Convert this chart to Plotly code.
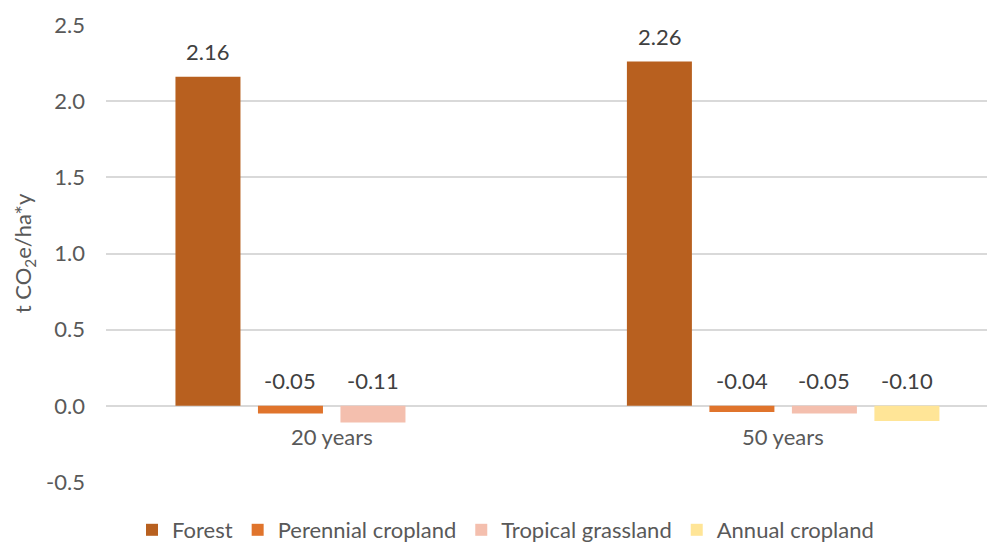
import plotly.graph_objects as go

categories = ["20 years", "50 years"]
series_names = ["Forest", "Perennial cropland", "Tropical grassland", "Annual cropland"]
forest = [2.16, 2.26]
perennial = [-0.05, -0.04]
tropical = [-0.11, -0.05]
annual = [None, -0.10]
series_values = [forest, perennial, tropical, annual]
colors = ["#B8601F", "#E0742C", "#F4BFAE", "#FFE597"]
y_ticks = [-0.5, 0.0, 0.5, 1.0, 1.5, 2.0, 2.5]

FONT = "Lato"
FS = 22
BARGAP = 0.269
GROUPGAP = 0.212

fig = go.Figure()
for name, vals, col in zip(series_names, series_values, colors):
    fig.add_trace(go.Bar(name=name, x=categories, y=vals, marker=dict(color=col, line=dict(width=0)),
                         hoverinfo="x+y+name"))

annotations = []
nser = len(series_names)
slot = (1 - BARGAP) / nser
for si, vals in enumerate(series_values):
    for ci, v in enumerate(vals):
        if v is None:
            continue
        annotations.append(dict(
            x=ci + (si - (nser - 1) / 2) * slot, y=max(v, 0), xref="x", yref="y",
            text=f"{v:.2f}", showarrow=False, yanchor="middle", yshift=25,
            font=dict(family=FONT, size=FS, color="#404040")))
for cat in categories:
    annotations.append(dict(x=cat, y=0, xref="x", yref="y", text=cat, showarrow=False,
                            yanchor="middle", yshift=-31,
                            font=dict(family=FONT, size=FS, color="#595959")))

fig.update_layout(
    width=995, height=544,
    margin=dict(l=98, r=0, t=17, b=70, autoexpand=False),
    paper_bgcolor="white", plot_bgcolor="white",
    barmode="group", bargap=BARGAP, bargroupgap=GROUPGAP,
    font=dict(family=FONT, size=FS, color="#595959"),
    annotations=annotations,
    showlegend=True,
    legend=dict(orientation="h", xref="container", yref="container", x=0.50, y=(544 - 522) / 544,
                xanchor="center", yanchor="middle", font=dict(family=FONT, size=FS, color="#595959"),
                traceorder="normal"),
    xaxis=dict(type="category", range=[-0.5, 1.487], showticklabels=False, showgrid=False,
               zeroline=False, showline=False, ticks=""),
    yaxis=dict(range=[-0.5, 2.5], tickvals=y_ticks, ticktext=[f"{t:.1f}" for t in y_ticks],
               showgrid=True, gridcolor="#D9D9D9", gridwidth=1.5,
               zeroline=True, zerolinecolor="#D9D9D9", zerolinewidth=1.5,
               showline=False, ticks="", ticklabelstandoff=20,
               tickfont=dict(family=FONT, size=FS, color="#595959"),
               title=dict(text="t CO<sub>2</sub>e/ha*y", standoff=8,
                          font=dict(family=FONT, size=FS, color="#595959"))),
)

fig.write_html("out.html")
